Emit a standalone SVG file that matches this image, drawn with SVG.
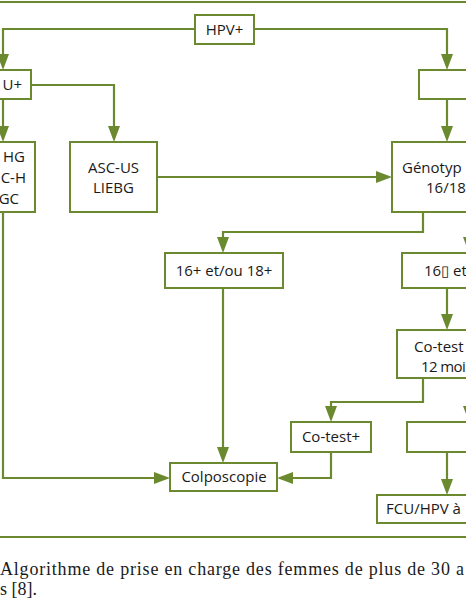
<svg xmlns="http://www.w3.org/2000/svg" width="466" height="600" viewBox="0 0 466 600">
<style>
.box{fill:#fff;stroke:#6b8a30;stroke-width:2}
.t{font-family:"Open Sans","Liberation Sans",sans-serif;font-size:15px;fill:#1a1a1a}
.c{text-anchor:middle}
.e{text-anchor:end}
.ln{fill:none;stroke:#6b8a30;stroke-width:2.2}
.cap{font-family:"Liberation Serif","DejaVu Serif",serif;font-size:18px;fill:#1a1a1a}
</style>
<defs>
<marker id="ah" markerUnits="userSpaceOnUse" markerWidth="16" markerHeight="12" refX="12" refY="6" orient="auto">
<path d="M0,0 L16,6 L0,12 z" fill="#6b8a30"/>
</marker>
</defs>
<rect width="466" height="600" fill="#fff"/>
<line x1="0" y1="2" x2="466" y2="2" class="ln"/>
<line x1="0" y1="537" x2="466" y2="537" class="ln"/>
<g id="connectors">
<polyline class="ln" points="195,29 3,29 3,66" marker-end="url(#ah)"/>
<polyline class="ln" points="254,29 447,29 447,66" marker-end="url(#ah)"/>
<polyline class="ln" points="3,99 3,138" marker-end="url(#ah)"/>
<polyline class="ln" points="31,85 114,85 114,138" marker-end="url(#ah)"/>
<polyline class="ln" points="447,99 447,138" marker-end="url(#ah)"/>
<polyline class="ln" points="157,177 388,177" marker-end="url(#ah)"/>
<polyline class="ln" points="423,212 423,232 223,232 223,249" marker-end="url(#ah)"/>
<polyline class="ln" points="469,212 469,249" marker-end="url(#ah)"/>
<polyline class="ln" points="447,288 447,326" marker-end="url(#ah)"/>
<polyline class="ln" points="423,378 423,402 331,402 331,418" marker-end="url(#ah)"/>
<polyline class="ln" points="469,378 469,418" marker-end="url(#ah)"/>
<polyline class="ln" points="447,452 447,491" marker-end="url(#ah)"/>
<polyline class="ln" points="223,288 223,459" marker-end="url(#ah)"/>
<polyline class="ln" points="331,452 331,478 281,478" marker-end="url(#ah)"/>
<polyline class="ln" points="3,212 3,478 166,478" marker-end="url(#ah)"/>
</g>
<g id="hpvpos"><rect class="box" x="195" y="15" width="59" height="29"/><text class="t c" x="224.5" y="35">HPV+</text></g>
<g id="fcupos"><rect class="box" x="-21" y="70" width="52" height="29"/><text class="t e" x="22" y="90">U+</text></g>
<g id="hpvneg"><rect class="box" x="419" y="70" width="70" height="29"/></g>
<g id="liehg"><rect class="box" x="-23" y="142" width="58" height="70"/><text class="t e" x="25" y="162">HG</text><text class="t e" x="26" y="183">C-H</text><text class="t e" x="19" y="204">GC</text></g>
<g id="ascus"><rect class="box" x="70" y="142" width="87" height="70"/><text class="t c" x="113.5" y="173">ASC-US</text><text class="t c" x="113.5" y="193">LIEBG</text></g>
<g id="genotypage"><rect class="box" x="392" y="142" width="100" height="70"/><text class="t" x="402" y="173">Génotyp</text><text class="t" x="426" y="193">16/18</text></g>
<g id="pos1618"><rect class="box" x="165" y="253" width="118" height="35"/><text class="t c" x="224" y="276">16+ et/ou 18+</text></g>
<g id="neg1618"><rect class="box" x="402" y="253" width="100" height="35"/><text class="t" x="424" y="276">16▯ et</text></g>
<g id="cotest12"><rect class="box" x="397" y="330" width="100" height="48"/><text class="t" x="414" y="352">Co-test</text><text class="t" x="421" y="372" letter-spacing="-0.6">12 moi</text></g>
<g id="cotestpos"><rect class="box" x="291" y="422" width="80" height="30"/><text class="t c" x="331" y="442">Co-test+</text></g>
<g id="cotestneg"><rect class="box" x="407" y="422" width="80" height="30"/></g>
<g id="colpo"><rect class="box" x="170" y="463" width="107" height="28"/><text class="t c" x="224" y="482">Colposcopie</text></g>
<g id="fcuhpv"><rect class="box" x="377" y="495" width="120" height="28"/><text class="t" x="386" y="514">FCU/HPV à</text></g>
<text class="cap" x="0" y="575" textLength="464" lengthAdjust="spacing">Algorithme de prise en charge des femmes de plus de 30 a</text>
<text class="cap" x="0" y="595">s [8].</text>
</svg>
